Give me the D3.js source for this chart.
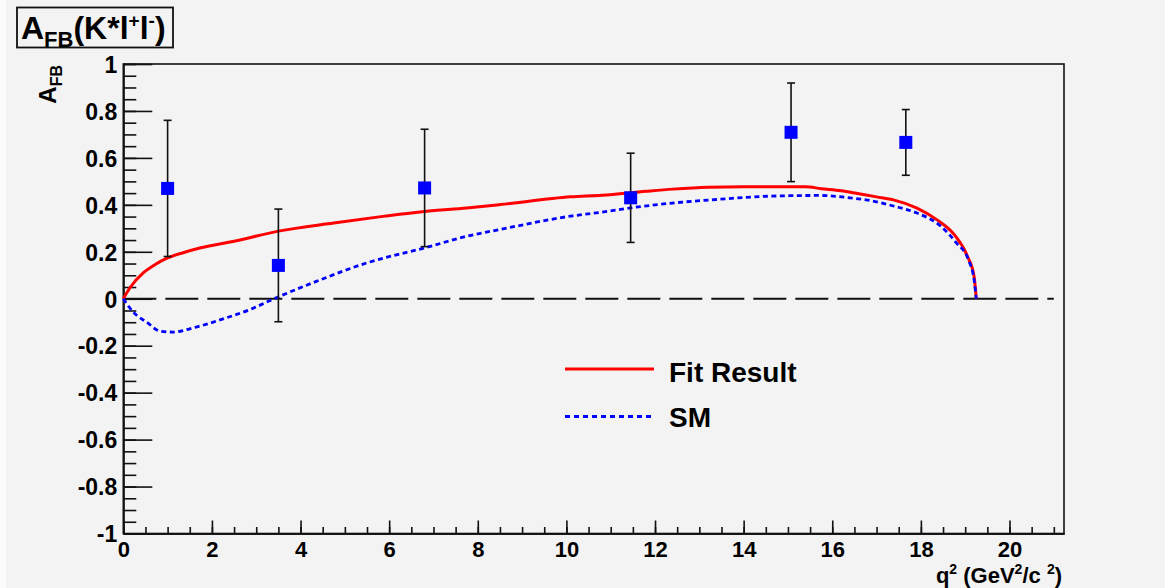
<!DOCTYPE html>
<html>
<head>
<meta charset="utf-8">
<script src="https://cdn.jsdelivr.net/npm/d3@7"></script>
<style>
  html, body { margin: 0; padding: 0; background: #f3f3f3; }
  svg { display: block; }
  text { font-family: "Liberation Sans", Arial, Helvetica, sans-serif; font-weight: bold; fill: #000; }
</style>
</head>
<body>
<svg id="chart" width="1165" height="588"></svg>
<script>
// ---- data ----
const pointsX   = [1.0, 3.5, 6.8, 11.45, 15.07, 17.66];
const pointsY   = [0.47, 0.142, 0.472, 0.43, 0.709, 0.666];
const pointsErr = [0.29, 0.24, 0.25, 0.19, 0.21, 0.14];

const fitX = [0, 0.15, 0.45, 0.72, 1.0, 1.35, 1.75, 2.5, 3.5, 4.75, 5.9, 6.8, 7.75, 8.5, 10.1, 10.8, 11.8, 12.4, 13.2, 14.0, 15.4, 15.75, 16.2, 16.6, 17.0, 17.4, 17.9, 18.35, 18.75, 19.05, 19.2, 19.25];
const fitY = [0, 0.047, 0.11, 0.146, 0.174, 0.196, 0.217, 0.245, 0.288, 0.323, 0.352, 0.372, 0.387, 0.401, 0.434, 0.441, 0.458, 0.467, 0.475, 0.477, 0.477, 0.469, 0.46, 0.447, 0.434, 0.42, 0.387, 0.338, 0.274, 0.181, 0.096, 0];

const smX = [0, 0.24, 0.53, 0.83, 1.13, 1.58, 2.33, 2.86, 3.4, 4.37, 5.5, 6.81, 7.75, 8.5, 10.1, 10.8, 11.45, 12.3, 13.4, 14.6, 15.7, 16.4, 16.8, 17.4, 17.9, 18.45, 18.8, 19.07, 19.2, 19.25];
const smY = [0, -0.06, -0.10, -0.138, -0.142, -0.124, -0.081, -0.046, 0, 0.075, 0.153, 0.217, 0.266, 0.295, 0.352, 0.369, 0.387, 0.406, 0.423, 0.437, 0.44, 0.43, 0.42, 0.394, 0.366, 0.309, 0.238, 0.167, 0.082, 0];

const xTicks = [0, 2, 4, 6, 8, 10, 12, 14, 16, 18, 20];
const xTickLabels = ["0", "2", "4", "6", "8", "10", "12", "14", "16", "18", "20"];
const yTicks = [-1, -0.8, -0.6, -0.4, -0.2, 0, 0.2, 0.4, 0.6, 0.8, 1];
const yTickLabels = ["-1", "-0.8", "-0.6", "-0.4", "-0.2", "0", "0.2", "0.4", "0.6", "0.8", "1"];
const legendLabels = ["Fit Result", "SM"];

// ---- layout ----
const svg = d3.select("#chart");
const X0 = 123.3, X1 = 1064, Y0 = 533.5, Y1 = 64;
const x = d3.scaleLinear().domain([0, 21.23]).range([X0, X1]);
const y = d3.scaleLinear().domain([-1, 1]).range([Y0, Y1]);

svg.append("rect").attr("width", 1165).attr("height", 588).attr("fill", "#f3f3f3");
svg.append("rect").attr("width", 6).attr("height", 588).attr("fill", "#fbfbfb");

// frame
svg.append("rect").attr("x", X0).attr("y", Y1).attr("width", X1 - X0).attr("height", Y0 - Y1)
  .attr("fill", "none").attr("stroke", "#111").attr("stroke-width", 1.6);

// minor ticks
const yMinor = d3.range(-1, 1.0001, 0.05).map(v => +v.toFixed(2));
const xMinor = d3.range(0, 21.2, 0.5).map(v => +v.toFixed(1));

const gyMinor = svg.append("g").attr("transform", `translate(${X0},0)`)
  .call(d3.axisLeft(y).tickValues(yMinor).tickSizeInner(-13).tickSizeOuter(0).tickFormat(""));
const gxMinor = svg.append("g").attr("transform", `translate(0,${Y0})`)
  .call(d3.axisBottom(x).tickValues(xMinor).tickSizeInner(-6.5).tickSizeOuter(0).tickFormat(""));

const gy = svg.append("g").attr("transform", `translate(${X0},0)`)
  .call(d3.axisLeft(y).tickValues(yTicks).tickSizeInner(-29).tickSizeOuter(0).tickPadding(6)
    .tickFormat((d, i) => yTickLabels[i]));
const gx = svg.append("g").attr("transform", `translate(0,${Y0})`)
  .call(d3.axisBottom(x).tickValues(xTicks).tickSizeInner(-13).tickSizeOuter(0).tickPadding(8)
    .tickFormat((d, i) => xTickLabels[i]));

[gyMinor, gxMinor, gy, gx].forEach(g => {
  g.selectAll("line").attr("stroke", "#111").attr("stroke-width", 1.6);
  g.select(".domain").attr("stroke", "#111").attr("stroke-width", 1.6);
});
gy.selectAll("text").attr("font-size", 23).attr("font-family", "Liberation Sans, Arial, sans-serif")
  .attr("font-weight", "bold").attr("fill", "#000").attr("dy", "0.36em");
gx.selectAll("text").attr("font-size", 22).attr("font-family", "Liberation Sans, Arial, sans-serif")
  .attr("font-weight", "bold").attr("fill", "#000");

// zero dashed line
svg.append("line").attr("x1", x(0)).attr("x2", x(21.0)).attr("y1", y(0)).attr("y2", y(0))
  .attr("stroke", "#111").attr("stroke-width", 1.8).attr("stroke-dasharray", "33,9");

// curves
const line = d3.line().x(d => x(d[0])).y(d => y(d[1])).curve(d3.curveMonotoneX);
const fitData = fitX.map((v, i) => [v, fitY[i]]);
const smData = smX.map((v, i) => [v, smY[i]]);

svg.append("path").attr("d", line(fitData)).attr("fill", "none")
  .attr("stroke", "#ff0000").attr("stroke-width", 3);
svg.append("path").attr("d", line(smData)).attr("fill", "none")
  .attr("stroke", "#0000ff").attr("stroke-width", 2.8).attr("stroke-dasharray", "5,3.5");

// error bars + markers
const pts = pointsX.map((v, i) => ({ x: v, y: pointsY[i], e: pointsErr[i] }));
const gp = svg.append("g");
gp.selectAll("line.err").data(pts).join("line").attr("class", "err")
  .attr("x1", d => x(d.x)).attr("x2", d => x(d.x))
  .attr("y1", d => y(d.y - d.e)).attr("y2", d => y(d.y + d.e))
  .attr("stroke", "#111").attr("stroke-width", 1.6);
[-1, 1].forEach(s => {
  gp.selectAll("line.cap" + (s > 0 ? "t" : "b")).data(pts).join("line").attr("class", "cap" + (s > 0 ? "t" : "b"))
    .attr("x1", d => x(d.x) - 4).attr("x2", d => x(d.x) + 4)
    .attr("y1", d => y(d.y + s * d.e)).attr("y2", d => y(d.y + s * d.e))
    .attr("stroke", "#111").attr("stroke-width", 1.6);
});
gp.selectAll("rect").data(pts).join("rect")
  .attr("x", d => x(d.x) - 6.5).attr("y", d => y(d.y) - 6.5)
  .attr("width", 13).attr("height", 13).attr("fill", "#0000ff");

// legend
const lg = svg.append("g");
lg.append("line").attr("x1", 565).attr("x2", 654).attr("y1", 369).attr("y2", 369)
  .attr("stroke", "#ff0000").attr("stroke-width", 3);
lg.append("text").attr("x", 669).attr("y", 381.5).attr("font-size", 28).text(legendLabels[0]);
lg.append("line").attr("x1", 565).attr("x2", 651).attr("y1", 416.5).attr("y2", 416.5)
  .attr("stroke", "#0000ff").attr("stroke-width", 2.8).attr("stroke-dasharray", "5,4");
lg.append("text").attr("x", 669).attr("y", 427).attr("font-size", 28).text(legendLabels[1]);

// title box
svg.append("rect").attr("x", 17).attr("y", 7.5).attr("width", 156).attr("height", 40)
  .attr("fill", "#f3f3f3").attr("stroke", "#111").attr("stroke-width", 1.8);
const t = svg.append("text").attr("x", 21).attr("y", 39).attr("font-size", 32);
t.append("tspan").text("A");
t.append("tspan").attr("font-size", 22).attr("dy", 8).text("FB");
t.append("tspan").attr("font-size", 32).attr("dy", -8).text("(K*l");
t.append("tspan").attr("font-size", 19).attr("dy", -12).text("+");
t.append("tspan").attr("font-size", 32).attr("dy", 12).text("l");
t.append("tspan").attr("font-size", 19).attr("dy", -12).text("-");
t.append("tspan").attr("font-size", 32).attr("dy", 12).text(")");

// y axis title (rotated)
const yt = svg.append("text").attr("transform", "translate(56,65) rotate(-90)")
  .attr("text-anchor", "end").attr("font-size", 24);
yt.append("tspan").text("A");
yt.append("tspan").attr("font-size", 16).attr("dy", 6).text("FB");

// x axis title
const xt = svg.append("text").attr("x", 1062).attr("y", 583).attr("text-anchor", "end").attr("font-size", 22);
xt.append("tspan").text("q");
xt.append("tspan").attr("font-size", 14).attr("dy", -9).text("2");
xt.append("tspan").attr("font-size", 22).attr("dy", 9).text(" (GeV");
xt.append("tspan").attr("font-size", 14).attr("dy", -9).text("2");
xt.append("tspan").attr("font-size", 22).attr("dy", 9).text("/c ");
xt.append("tspan").attr("font-size", 14).attr("dy", -9).text("2");
xt.append("tspan").attr("font-size", 22).attr("dy", 9).text(")");
</script>
</body>
</html>
